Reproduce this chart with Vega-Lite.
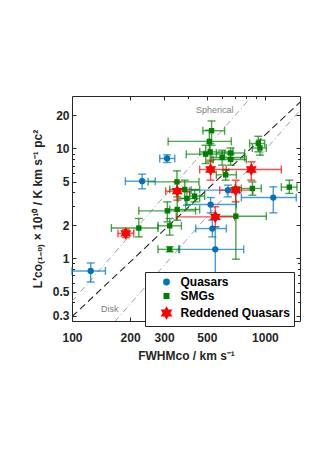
{
  "$schema": "https://vega.github.io/schema/vega-lite/v6.json",
  "width": 228,
  "height": 225,
  "autosize": {"type": "none"},
  "padding": {"left": 72, "top": 96, "right": 31, "bottom": 147},
  "background": "white",
  "datasets": {
    "lines": [
      {"l": "fit", "x": 100, "y": 0.296},
      {"l": "fit", "x": 1600, "y": 28.7},
      {"l": "sph", "x": 100, "y": 0.407},
      {"l": "sph", "x": 900, "y": 33.0},
      {"l": "disk", "x": 150, "y": 0.216},
      {"l": "disk", "x": 1600, "y": 24.6}
    ],
    "labels": [
      {"t": "Spherical", "x": 549, "y": 22.6},
      {"t": "Disk", "x": 157, "y": 0.344}
    ],
    "pts": [
      {"g": "Quasars", "x": 125, "xl": 100, "xh": 149, "y": 0.77, "yl": 0.61, "yh": 0.91},
      {"g": "Quasars", "x": 231, "xl": 189, "xh": 270, "y": 5.04, "yl": 4.30, "yh": 5.84},
      {"g": "Quasars", "x": 311, "xl": 285, "xh": 341, "y": 8.11, "yl": 7.45, "yh": 8.75},
      {"g": "Quasars", "x": 523, "xl": 388, "xh": 711, "y": 3.09, "yl": 2.60, "yh": 3.58},
      {"g": "Quasars", "x": 643, "xl": 415, "xh": 740, "y": 4.18, "yl": 3.63, "yh": 4.64},
      {"g": "Quasars", "x": 534, "xl": 438, "xh": 631, "y": 1.87, "yl": 1.57, "yh": 2.23},
      {"g": "Quasars", "x": 553, "xl": 357, "xh": 776, "y": 1.21, "yl": 0.73, "yh": 1.94},
      {"g": "Quasars", "x": 1105, "xl": 755, "xh": 1454, "y": 3.58, "yl": 2.60, "yh": 4.48},
      {"g": "SMGs", "x": 222, "xl": 160, "xh": 279, "y": 1.89, "yl": 1.57, "yh": 2.31},
      {"g": "SMGs", "x": 321, "xl": 279, "xh": 369, "y": 1.98, "yl": 1.63, "yh": 2.31},
      {"g": "SMGs", "x": 321, "xl": 279, "xh": 361, "y": 1.21, "yl": 1.15, "yh": 1.28},
      {"g": "SMGs", "x": 312, "xl": 222, "xh": 437, "y": 2.71, "yl": 2.15, "yh": 3.27},
      {"g": "SMGs", "x": 351, "xl": 321, "xh": 459, "y": 2.79, "yl": 2.23, "yh": 3.63},
      {"g": "SMGs", "x": 350, "xl": 248, "xh": 455, "y": 4.97, "yl": 3.90, "yh": 6.26},
      {"g": "SMGs", "x": 384, "xl": 321, "xh": 459, "y": 4.24, "yl": 3.51, "yh": 5.15},
      {"g": "SMGs", "x": 394, "xl": 354, "xh": 459, "y": 3.51, "yl": 3.05, "yh": 4.04},
      {"g": "SMGs", "x": 432, "xl": 407, "xh": 487, "y": 3.69, "yl": 3.27, "yh": 4.18},
      {"g": "SMGs", "x": 529, "xl": 477, "xh": 618, "y": 14.5, "yl": 10.7, "yh": 17.8},
      {"g": "SMGs", "x": 515, "xl": 315, "xh": 670, "y": 11.6, "yl": 9.0, "yh": 14.7},
      {"g": "SMGs", "x": 520, "xl": 459, "xh": 683, "y": 9.32, "yl": 7.56, "yh": 11.1},
      {"g": "SMGs", "x": 493, "xl": 391, "xh": 618, "y": 8.88, "yl": 7.30, "yh": 10.7},
      {"g": "SMGs", "x": 600, "xl": 527, "xh": 785, "y": 8.28, "yl": 7.05, "yh": 9.65},
      {"g": "SMGs", "x": 664, "xl": 560, "xh": 785, "y": 9.1, "yl": 8.11, "yh": 10.1},
      {"g": "SMGs", "x": 664, "xl": 538, "xh": 801, "y": 7.95, "yl": 7.05, "yh": 8.88},
      {"g": "SMGs", "x": 626, "xl": 560, "xh": 711, "y": 5.76, "yl": 5.15, "yh": 6.35},
      {"g": "SMGs", "x": 861, "xl": 755, "xh": 958, "y": 4.33, "yl": 3.76, "yh": 4.97},
      {"g": "SMGs", "x": 924, "xl": 833, "xh": 997, "y": 11.1, "yl": 9.32, "yh": 12.9},
      {"g": "SMGs", "x": 943, "xl": 861, "xh": 1017, "y": 10.1, "yl": 8.69, "yh": 11.9},
      {"g": "SMGs", "x": 1338, "xl": 1216, "xh": 1466, "y": 4.45, "yl": 3.90, "yh": 5.15},
      {"g": "SMGs", "x": 707, "xl": 560, "xh": 1017, "y": 2.42, "yl": 0.985, "yh": 4.48},
      {"g": "Reddened Quasars", "x": 190, "xl": 173, "xh": 209, "y": 1.69, "yl": 1.55, "yh": 1.83},
      {"g": "Reddened Quasars", "x": 351, "xl": 306, "xh": 407, "y": 4.09, "yl": 3.39, "yh": 4.97},
      {"g": "Reddened Quasars", "x": 523, "xl": 459, "xh": 631, "y": 6.44, "yl": 5.15, "yh": 7.83},
      {"g": "Reddened Quasars", "x": 850, "xl": 606, "xh": 1216, "y": 6.44, "yl": 5.15, "yh": 7.56},
      {"g": "Reddened Quasars", "x": 705, "xl": 583, "xh": 867, "y": 4.18, "yl": 3.27, "yh": 5.15},
      {"g": "Reddened Quasars", "x": 553, "xl": 347, "xh": 697, "y": 2.39, "yl": 1.94, "yh": 2.95}
    ]
  },
  "layer": [
    {
      "data": {"name": "lines"},
      "transform": [{"filter": "datum.l == 'fit'"}],
      "mark": {"type": "line", "clip": true, "color": "#262626", "strokeDash": [7, 4], "strokeWidth": 1.1},
      "encoding": {
        "x": {"field": "x", "type": "quantitative",
              "scale": {"type": "log", "domain": [100, 1520], "nice": false},
              "axis": {"orient": "bottom", "values": [100, 200, 300, 500, 1000], "format": "~g", "tickSize": -4, "labelPadding": 15,
                       "title": "FWHMᴄᴏ / km s⁻¹", "titlePadding": 7}},
        "y": {"field": "y", "type": "quantitative",
              "scale": {"type": "log", "domain": [0.27, 30], "nice": false},
              "axis": {"orient": "left", "values": [0.3, 0.5, 1, 2, 5, 10, 20], "format": "~g", "tickSize": -4, "labelPadding": 7,
                       "title": "L′ᴄᴏ₍₁₋₀₎ × 10¹⁰ / K km s⁻¹ pc²", "titlePadding": 8}}
      }
    },
    {
      "data": {"name": "lines"},
      "transform": [{"filter": "datum.l != 'fit'"}],
      "mark": {"type": "line", "clip": true, "color": "#a0a0a0", "strokeDash": [6, 3, 1, 3], "strokeWidth": 1},
      "encoding": {
        "x": {"field": "x", "type": "quantitative",
              "axis": {"orient": "bottom", "values": [400, 600, 700, 800, 900], "labels": false, "tickSize": -2.5, "title": null}},
        "y": {"field": "y", "type": "quantitative",
              "axis": {"orient": "left", "values": [0.4, 0.6, 0.7, 0.8, 0.9, 3, 4, 6, 7, 8, 9], "labels": false, "tickSize": -2.5, "title": null}},
        "detail": {"field": "l"}
      }
    },
    {
      "data": {"name": "labels"},
      "mark": {"type": "text", "fontSize": 9, "color": "#808080", "font": "Liberation Sans"},
      "encoding": {
        "x": {"field": "x", "type": "quantitative",
              "axis": {"orient": "top", "values": [400, 600, 700, 800, 900], "labels": false, "tickSize": -2.5, "title": null}},
        "y": {"field": "y", "type": "quantitative",
              "axis": {"orient": "right", "values": [0.4, 0.6, 0.7, 0.8, 0.9, 3, 4, 6, 7, 8, 9], "labels": false, "tickSize": -2.5, "title": null}},
        "text": {"field": "t"}
      }
    },
    {
      "data": {"name": "pts"},
      "mark": {"type": "errorbar", "ticks": true, "size": 8, "thickness": 1.4, "rule": {"opacity": 0.7}},
      "encoding": {
        "x": {"field": "xl", "type": "quantitative", "axis": null},
        "x2": {"field": "xh"},
        "y": {"field": "y", "type": "quantitative", "axis": null},
        "color": {"field": "g", "type": "nominal"}
      }
    },
    {
      "data": {"name": "pts"},
      "mark": {"type": "errorbar", "ticks": true, "size": 8, "thickness": 1.4, "rule": {"opacity": 0.7}},
      "encoding": {
        "y": {"field": "yl", "type": "quantitative", "axis": null},
        "y2": {"field": "yh"},
        "x": {"field": "x", "type": "quantitative", "axis": null},
        "color": {"field": "g", "type": "nominal"}
      }
    },
    {
      "data": {"name": "pts"},
      "mark": {"type": "point", "filled": true, "size": 40, "opacity": 1},
      "encoding": {
        "x": {"field": "x", "type": "quantitative",
              "axis": {"orient": "top", "values": [200, 300, 500, 1000], "labels": false, "tickSize": -4, "title": null}},
        "y": {"field": "y", "type": "quantitative",
              "axis": {"orient": "right", "values": [0.3, 0.5, 1, 2, 5, 10, 20], "labels": false, "tickSize": -4, "title": null}},
        "color": {"field": "g", "type": "nominal",
                  "scale": {"domain": ["Quasars", "SMGs", "Reddened Quasars"], "range": ["#0072BD", "#008000", "#FF0000"]},
                  "legend": {"title": null}},
        "shape": {"field": "g", "type": "nominal",
                  "scale": {"domain": ["Quasars", "SMGs", "Reddened Quasars"],
                            "range": ["circle", "M-0.85,-0.85L0.85,-0.85L0.85,0.85L-0.85,0.85Z", "M0,-2L0.577,-1L1.732,-1L1.155,0L1.732,1L0.577,1L0,2L-0.577,1L-1.732,1L-1.155,0L-1.732,-1L-0.577,-1Z"]},
                  "legend": {"title": null}}
      }
    }
  ],
  "resolve": {"axis": {"x": "independent", "y": "independent"}},
  "config": {
    "font": "Liberation Sans",
    "view": {"stroke": "#262626", "strokeWidth": 1},
    "axis": {
      "labelFont": "Liberation Sans", "labelFontSize": 12, "labelFontWeight": "bold", "labelColor": "#262626",
      "titleFont": "Liberation Sans", "titleFontSize": 12, "titleFontWeight": "bold", "titleColor": "#262626",
      "tickColor": "#262626", "tickWidth": 1, "domain": false, "grid": false, "labelFlush": false, "labelOverlap": false
    },
    "legend": {
      "orient": "none", "legendX": 73, "legendY": 176,
      "strokeColor": "#262626", "fillColor": "white", "padding": 4, "rowPadding": 2,
      "symbolSize": 28, "symbolOffset": 11.5, "labelOffset": 8, "symbolOpacity": 1,
      "labelFont": "Liberation Sans", "labelFontSize": 12, "labelFontWeight": "bold", "labelColor": "black"
    }
  }
}
